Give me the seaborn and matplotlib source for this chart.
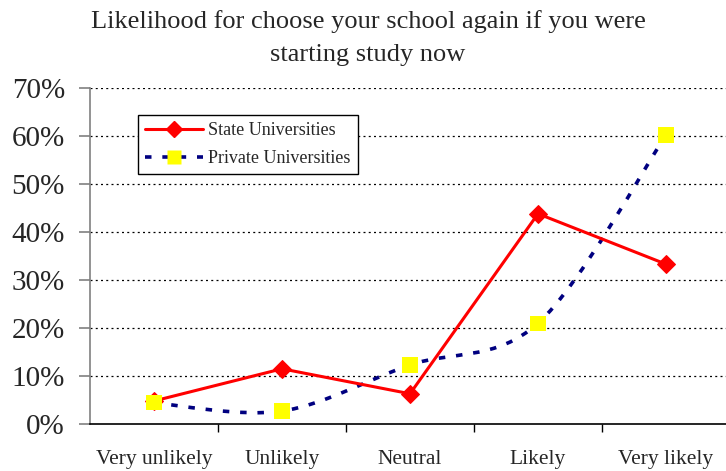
import numpy as np
import pandas as pd
import matplotlib.pyplot as plt
import seaborn as sns
from matplotlib.path import Path
from matplotlib.patches import PathPatch
from matplotlib.lines import Line2D

# data
categories = ["Very unlikely", "Unlikely", "Neutral", "Likely", "Very likely"]
state = [4.8, 11.5, 6.3, 43.8, 33.3]
private = [4.4, 2.7, 12.3, 21.0, 60.2]
y_ticks = [0, 10, 20, 30, 40, 50, 60, 70]

sns.set_theme(style="white")
plt.rcParams["font.family"] = ["Liberation Serif", "DejaVu Serif"]

pos = np.arange(len(categories))
df = pd.DataFrame({"pos": pos, "State Universities": state, "Private Universities": private})

fig = plt.figure(figsize=(7.26, 4.71), dpi=100)
ax = fig.add_axes([90 / 726, 1 - 424 / 471, 640 / 726, 336 / 471])

# dotted gridlines
for t in y_ticks[1:]:
    ax.axhline(t, color="black", lw=0.9, ls=(0, (1.6, 2.6)), zorder=0)

# private: smoothed dashed line (Catmull-Rom style bezier through the points)
px = df["pos"].to_numpy(float)
py = df["Private Universities"].to_numpy(float)
verts = [(px[0], py[0])]
codes = [Path.MOVETO]
n = len(px)
for i in range(n - 1):
    p0 = np.array([px[max(i - 1, 0)], py[max(i - 1, 0)]])
    p1 = np.array([px[i], py[i]])
    p2 = np.array([px[i + 1], py[i + 1]])
    p3 = np.array([px[min(i + 2, n - 1)], py[min(i + 2, n - 1)]])
    c1 = p1 + (p2 - p0) / 6
    c2 = p2 - (p3 - p1) / 6
    verts += [tuple(c1), tuple(c2), tuple(p2)]
    codes += [Path.CURVE4] * 3
ax.add_patch(PathPatch(Path(verts, codes), fill=False, edgecolor="#000080",
                       lw=2.6, ls=(0, (1.8, 3.0)), zorder=2))

# state: solid red line with diamonds
sns.lineplot(data=df, x="pos", y="State Universities", ax=ax, color="red", lw=2.2,
             marker="D", markersize=9.5, markeredgecolor="red", zorder=3, legend=False)

# private markers
sns.scatterplot(data=df, x="pos", y="Private Universities", ax=ax, color="#FFFF00",
                marker="s", s=118, edgecolor="none", zorder=4, legend=False)

ax.set_xlim(-0.5, 4.5)
ax.set_ylim(0, 70)
ax.set_yticks(y_ticks)
ax.set_yticklabels([f"{t}%" for t in y_ticks], fontsize=21)
ax.set_xticks(pos[:-1] + 0.5)
ax.set_xticklabels([])
ax.set_xticks(pos, minor=True)
ax.set_xticklabels(categories, minor=True, fontsize=15.5)
ax.tick_params(axis="x", which="major", direction="out", length=6, width=1, color="black", bottom=True)
ax.tick_params(axis="x", which="minor", length=0, pad=19)
ax.tick_params(axis="y", direction="out", length=8, width=1.2, color="#808080", left=True, pad=10)
ax.set_xlabel("")
ax.set_ylabel("")
ax.grid(False)

for s in ["top", "right"]:
    ax.spines[s].set_visible(False)
ax.spines["left"].set_color("#808080")
ax.spines["left"].set_linewidth(1.2)
ax.spines["bottom"].set_color("black")
ax.spines["bottom"].set_linewidth(1.2)

handles = [
    Line2D([], [], color="red", lw=2.2, marker="D", markersize=8),
    Line2D([], [], color="#000080", lw=2.6, ls=(0, (1.8, 3.0)), marker="s",
           markersize=10, markerfacecolor="#FFFF00", markeredgecolor="none"),
]
leg = ax.legend(handles, ["State Universities", "Private Universities"],
                loc="upper left", bbox_to_anchor=(138 / 726, 1 - 115 / 471),
                bbox_transform=fig.transFigure, fontsize=13, frameon=True,
                fancybox=False, edgecolor="black", framealpha=1, handlelength=3.2,
                borderpad=0.4, labelspacing=0.6, handletextpad=0.3, borderaxespad=0)
leg.get_frame().set_linewidth(1.0)

fig.text(0.507, 0.978, "Likelihood for choose your school again if you were\nstarting study now",
         ha="center", va="top", fontsize=19, linespacing=1.6)

fig.savefig("out.png", dpi=100)
